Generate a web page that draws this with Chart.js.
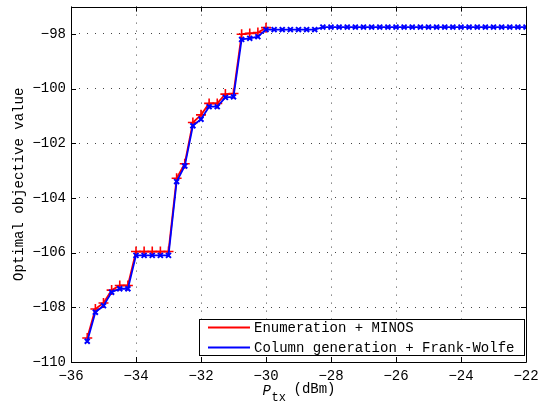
<!DOCTYPE html>
<html>
<head>
<meta charset="utf-8">
<script src="https://cdn.jsdelivr.net/npm/chart.js@4.4.1/dist/chart.umd.min.js"></script>
<style>
    html, body { margin: 0; padding: 0; background: #fff; }
    #wrap { width: 544px; height: 403px; }
</style>
</head>
<body>
<div id="wrap"><canvas id="lineChart" width="544" height="403"></canvas></div>
<script>
// transmit power (dBm)
const txPower = [
    -35.5, -35.25, -35, -34.75, -34.5, -34.25, -34, -33.75, -33.5, -33.25, -33,
    -32.75, -32.5, -32.25, -32, -31.75, -31.5, -31.25, -31, -30.75, -30.5, -30.25, -30,
    -29.75, -29.5, -29.25, -29, -28.75, -28.5, -28.25, -28, -27.75, -27.5, -27.25, -27,
    -26.75, -26.5, -26.25, -26, -25.75, -25.5, -25.25, -25, -24.75, -24.5, -24.25, -24,
    -23.75, -23.5, -23.25, -23, -22.75, -22.5, -22.25, -22
];
// Enumeration + MINOS (only up to -30 dBm)
const enumMinos = [
    -109.12, -108.06, -107.84, -107.37, -107.2, -107.2, -105.96, -105.96, -105.96, -105.96, -105.96,
    -103.28, -102.75, -101.24, -100.96, -100.54, -100.54, -100.2, -100.18, -98.01, -97.98, -97.95, -97.77
];
// Column generation + Frank-Wolfe
const colGenFW = [
    -109.24, -108.18, -107.94, -107.45, -107.32, -107.32, -106.1, -106.1, -106.1, -106.1, -106.1,
    -103.4, -102.83, -101.36, -101.12, -100.66, -100.66, -100.32, -100.3, -98.2, -98.16, -98.1, -97.84,
    -97.84, -97.84, -97.84, -97.84, -97.84, -97.84, -97.75, -97.75, -97.75, -97.75, -97.75, -97.75,
    -97.75, -97.75, -97.75, -97.75, -97.75, -97.75, -97.75, -97.75, -97.75, -97.75, -97.75, -97.75,
    -97.75, -97.75, -97.75, -97.75, -97.75, -97.75, -97.75, -97.75
];
const xTicks = [-36, -34, -32, -30, -28, -26, -24, -22];
const yTicks = [-110, -108, -106, -104, -102, -100, -98];
const seriesNames = ['Enumeration + MINOS', 'Column generation + Frank-Wolfe'];

const FONT = 'Liberation Mono';
const minus = v => String(v).replace('-', '\u2212');

function toPoints(ys) {
    let pts = [];
    for (let i = 0; i < ys.length; i++) {
        pts.push({ x: txPower[i], y: ys[i] });
    }
    return pts;
}

// frame, inward ticks, legend box and x label with subscript
const decorations = {
    id: 'decorations',
    afterDraw(chart) {
        const ctx = chart.ctx;
        const a = chart.chartArea;
        const xs = chart.scales.x, ys = chart.scales.y;
        ctx.save();
        ctx.strokeStyle = '#000';
        ctx.lineWidth = 1;
        ctx.beginPath();
        ctx.rect(Math.round(a.left) + 0.5, Math.round(a.top) + 0.5, Math.round(a.right - a.left), Math.round(a.bottom - a.top));
        ctx.stroke();

        const tl = 5;
        ctx.beginPath();
        xTicks.forEach(v => {
            let px = Math.round(xs.getPixelForValue(v)) + 0.5;
            ctx.moveTo(px, a.bottom); ctx.lineTo(px, a.bottom - tl);
            ctx.moveTo(px, a.top); ctx.lineTo(px, a.top + tl);
        });
        yTicks.forEach(v => {
            let py = Math.round(ys.getPixelForValue(v)) + 0.5;
            ctx.moveTo(a.left, py); ctx.lineTo(a.left + tl, py);
            ctx.moveTo(a.right, py); ctx.lineTo(a.right - tl, py);
        });
        ctx.stroke();

        // legend
        const lx = 199, ly = 319, lw = 325, lh = 36;
        ctx.fillStyle = '#fff';
        ctx.fillRect(lx, ly, lw, lh);
        ctx.strokeRect(lx + 0.5, ly + 0.5, lw, lh);
        const ds = chart.data.datasets;
        const rows = [ly + 8.5, ly + 28.5];
        ctx.font = '14px ' + FONT;
        ctx.textBaseline = 'middle';
        ctx.textAlign = 'left';
        for (let i = 0; i < 2; i++) {
            let d = ds[i];
            ctx.strokeStyle = d.borderColor;
            ctx.lineWidth = d.borderWidth;
            ctx.beginPath();
            ctx.moveTo(lx + 9, rows[i]);
            ctx.lineTo(lx + 51, rows[i]);
            ctx.stroke();
            ctx.lineWidth = d.pointBorderWidth;
            Chart.helpers.drawPoint(ctx, { pointStyle: d.pointStyle, radius: d.pointRadius, rotation: 0 }, lx + 30, rows[i]);
            ctx.fillStyle = '#000';
            ctx.fillText(d.label, lx + 55, rows[i] + 1);
        }

        // x axis label: P_tx (dBm)
        const cx = (a.left + a.right) / 2;
        ctx.fillStyle = '#000';
        ctx.textBaseline = 'alphabetic';
        ctx.font = 'italic 14px ' + FONT;
        ctx.fillText('P', cx - 36, a.bottom + 33);
        ctx.font = '12px ' + FONT;
        ctx.fillText('tx', cx - 27, a.bottom + 39);
        ctx.font = '14px ' + FONT;
        ctx.fillText('(dBm)', cx - 5, a.bottom + 31);
        ctx.restore();
    }
};

var lineCanvas = document.getElementById('lineChart').getContext('2d');
new Chart(lineCanvas, {
    type: 'line',
    data: {
        datasets: [
            {
                label: seriesNames[0],
                data: toPoints(enumMinos),
                borderColor: '#ff0000',
                backgroundColor: '#ff0000',
                borderWidth: 1.8,
                pointStyle: 'cross',
                pointRadius: 5,
                pointBorderWidth: 1.6,
                pointBorderColor: '#ff0000',
                order: 1
            },
            {
                label: seriesNames[1],
                data: toPoints(colGenFW),
                borderColor: '#0000ff',
                backgroundColor: '#0000ff',
                borderWidth: 1.8,
                pointStyle: 'crossRot',
                pointRadius: 3.5,
                pointBorderWidth: 2,
                pointBorderColor: '#0000ff',
                order: 0
            }
        ]
    },
    options: {
        responsive: false,
        animation: false,
        layout: { padding: { top: -4, right: 18, left: 0, bottom: 0 } },
        elements: { line: { tension: 0, fill: false } },
        plugins: {
            legend: { display: false },
            tooltip: { enabled: false }
        },
        scales: {
            x: {
                type: 'linear',
                min: -36,
                max: -22,
                afterBuildTicks: scale => { scale.ticks = xTicks.map(v => ({ value: v })); },
                afterFit: scale => { scale.height = 41; scale.paddingLeft = 0; scale.paddingRight = 0; },
                grid: { color: '#444', lineWidth: 1, drawTicks: false },
                border: { display: false, dash: [1, 7] },
                ticks: {
                    padding: 6,
                    maxRotation: 0,
                    color: '#000',
                    font: { family: FONT, size: 14 },
                    callback: v => minus(v)
                }
            },
            y: {
                type: 'linear',
                min: -110,
                max: -97,
                afterBuildTicks: scale => { scale.ticks = yTicks.map(v => ({ value: v })); },
                afterFit: scale => { scale.width = 71; scale.paddingTop = 0; scale.paddingBottom = 0; },
                grid: { color: '#444', lineWidth: 1, drawTicks: false },
                border: { display: false, dash: [1, 7] },
                title: {
                    display: true,
                    text: 'Optimal objective value',
                    color: '#000',
                    font: { family: FONT, size: 14 },
                    padding: { top: 11, bottom: 0 }
                },
                ticks: {
                    padding: 5,
                    color: '#000',
                    font: { family: FONT, size: 14 },
                    callback: v => minus(v)
                }
            }
        }
    },
    plugins: [decorations]
});
</script>
</body>
</html>
